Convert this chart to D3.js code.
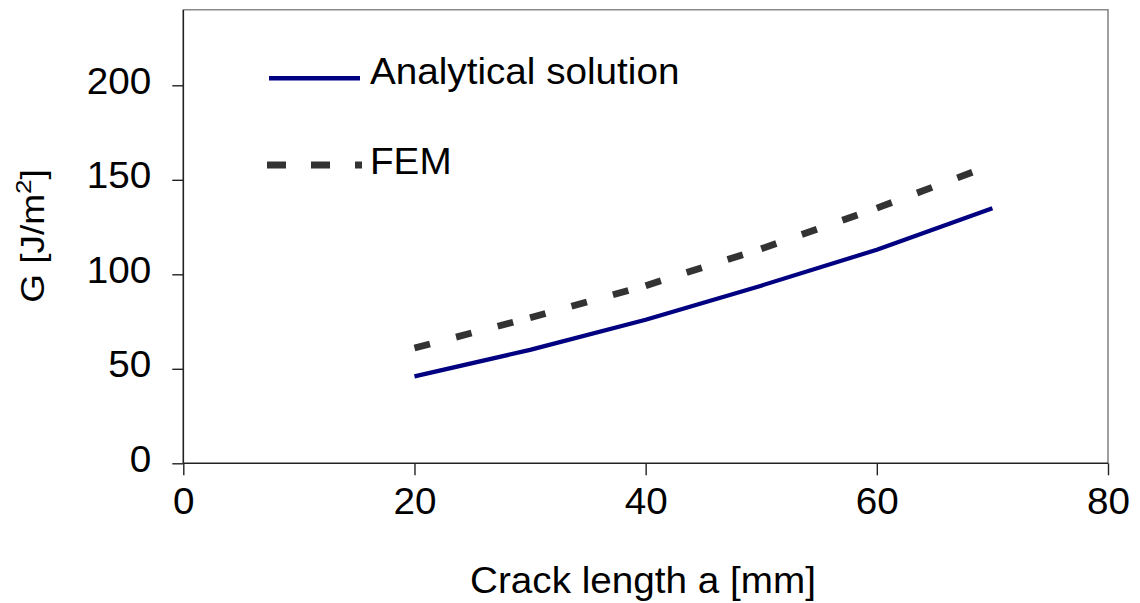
<!DOCTYPE html>
<html>
<head>
<meta charset="utf-8">
<script src="https://cdn.jsdelivr.net/npm/d3@7"></script>
<style>
  html, body { margin: 0; padding: 0; background: #fff; }
  text { font-family: "Liberation Sans", Arial, sans-serif; fill: #000; }
</style>
</head>
<body>
<svg id="chart" width="1140" height="603"></svg>
<script>
// ---- data ----
const crackLength = [20, 30, 40, 50, 60, 70];
const analytical  = [46, 60, 76, 94, 113, 135];
const fem         = [61, 77, 94, 113.5, 135, 158];
const xTicks = [0, 20, 40, 60, 80];
const yTicks = [0, 50, 100, 150, 200];
const seriesNames = ["Analytical solution", "FEM"];
const xTitle = "Crack length a [mm]";

// ---- layout ----
const svg = d3.select("#chart");
const mLeft = 183.3, mRight = 1108, mTop = 9.7, mBottom = 463.3;
const sx = 1.045; // slight horizontal stretch of the original lettering
const x = d3.scaleLinear().domain([0, 80]).range([mLeft, mRight]);
const y = d3.scaleLinear().domain([0, 240]).range([mBottom, mTop]);

// frame (top & right, gray)
svg.append("path")
  .attr("d", `M${mLeft},${mTop}H${mRight}V${mBottom}`)
  .attr("fill", "none").attr("stroke", "#888").attr("stroke-width", 1.6);

// axes
const xAxis = d3.axisBottom(x).tickValues(xTicks).tickSize(12).tickPadding(12).tickFormat(d3.format("d"));
const yAxis = d3.axisLeft(y).tickValues(yTicks).tickSize(11).tickPadding(20).tickFormat(d3.format("d"));

const gx = svg.append("g").attr("transform", `translate(0,${mBottom})`).call(xAxis);
const gy = svg.append("g").attr("transform", `translate(${mLeft},0)`).call(yAxis);
[gx, gy].forEach(g => {
  g.select(".domain").attr("stroke", "#222").attr("stroke-width", 1.6);
  g.selectAll(".tick line").attr("stroke", "#222").attr("stroke-width", 1.4);
  g.selectAll(".tick text").attr("font-size", 37).attr("font-family", "Liberation Sans, Arial, sans-serif").attr("fill", "#000");
});
gy.select(".domain").attr("d", `M0,${mBottom}V${mTop}`);
gx.select(".domain").attr("d", `M${mLeft},0H${mRight}`);
gy.selectAll(".tick text").attr("dy", "0.22em").attr("x", null)
  .attr("transform", `translate(-32,0) scale(${sx},1)`);
gx.selectAll(".tick text").attr("transform", `scale(${sx},1)`);

// axis titles
svg.append("text")
  .attr("transform", `translate(643,593) scale(${sx},1)`)
  .attr("text-anchor", "middle").attr("font-size", 37)
  .text(xTitle);

const yt = svg.append("text")
  .attr("transform", "translate(44,236) scale(0.88,1) rotate(-90)")
  .attr("text-anchor", "middle").attr("font-size", 37);
yt.append("tspan").text("G [J/m");
yt.append("tspan").attr("font-size", 26).attr("dy", "-0.55em").text("2");
yt.append("tspan").attr("dy", "0.39em").text("]");

// lines
const analyticalPts = crackLength.map((c, i) => [c, analytical[i]]);
const femPts = crackLength.map((c, i) => [c, fem[i]]);
const line = d3.line().x(d => x(d[0])).y(d => y(d[1]));

svg.append("path")
  .datum(analyticalPts)
  .attr("d", line)
  .attr("fill", "none").attr("stroke", "#000080").attr("stroke-width", 4.2)
  .attr("stroke-linejoin", "round");

// FEM dashed: dash pattern restarts at each vertex (as in the original)
const femSegs = d3.pairs(femPts);
svg.append("g").selectAll("path").data(femSegs).join("path")
  .attr("d", d => line(d))
  .attr("fill", "none").attr("stroke", "#333333").attr("stroke-width", 6.8)
  .attr("stroke-dasharray", "16 27");

// legend
const lg = svg.append("g");
lg.append("line").attr("x1", 269).attr("x2", 360).attr("y1", 78.3).attr("y2", 78.3)
  .attr("stroke", "#000080").attr("stroke-width", 4.5);
lg.append("text").attr("transform", `translate(370,83.5) scale(${sx},1)`).attr("font-size", 37).text(seriesNames[0]);
lg.append("line").attr("x1", 267).attr("x2", 362).attr("y1", 165).attr("y2", 165)
  .attr("stroke", "#333333").attr("stroke-width", 6.8).attr("stroke-dasharray", "19 25");
lg.append("text").attr("transform", `translate(370,173.5) scale(${sx},1)`).attr("font-size", 37).text(seriesNames[1]);
</script>
</body>
</html>
